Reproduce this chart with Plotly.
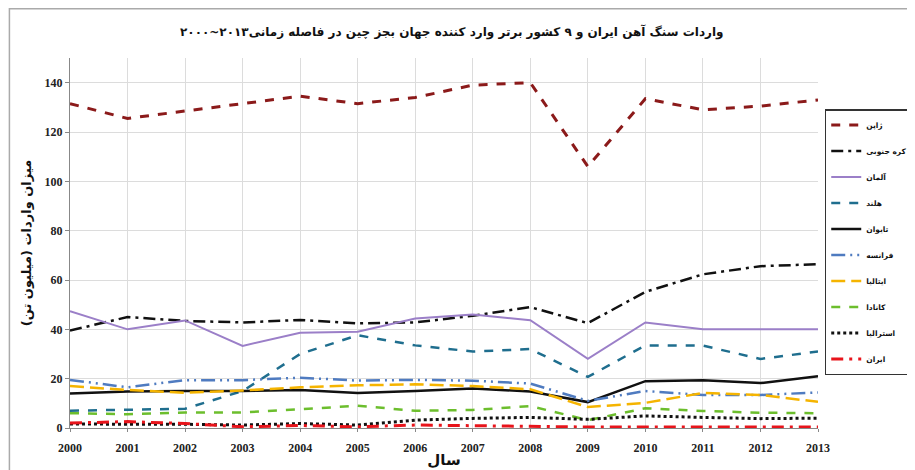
import plotly.graph_objects as go

years = list(range(2000, 2014))

japan = [131.5, 125.5, 128.5, 131.5, 134.5, 131.5, 134, 139, 140, 106, 133.5, 129, 130.5, 133]
korea = [39.5, 45, 43.4, 42.8, 43.8, 42.4, 42.8, 45.5, 49, 42.5, 55.2, 62.3, 65.6, 66.4]
germany = [47.4, 40, 43.6, 33.3, 38.6, 39, 44.4, 46, 43.7, 28, 42.8, 40, 40, 40]
netherlands = [7, 7.5, 7.8, 15, 30, 37.6, 33.5, 31, 32, 20.7, 33.5, 33.4, 28, 31]
taiwan = [14, 14.8, 15, 15, 15.4, 14.2, 15, 16, 14.8, 10.5, 19, 19.4, 18.2, 21]
france = [19.5, 16.5, 19.4, 19.4, 20.4, 19.2, 19.5, 19.2, 18, 11, 15, 13.4, 13.4, 14.4]
italy = [17, 15.4, 14.3, 15.2, 16.5, 17.3, 17.7, 17, 15.7, 8.5, 10.2, 14.2, 13.4, 10.6]
canada = [6, 5.6, 6.3, 6.3, 7.6, 9, 7, 7.3, 8.9, 3.2, 8, 6.9, 6.2, 6]
australia = [1.6, 1.7, 1.5, 1.2, 1.8, 1.2, 3.2, 3.9, 4.3, 3.5, 4.9, 4.3, 3.8, 4]
iran = [2, 2.6, 1.8, 0.5, 1.0, 0.5, 1.2, 0.9, 0.8, 0.4, 0.4, 0.4, 0.7, 0.4]

names = ["ژاپن", "کره جنوبی", "آلمان", "هلند", "تایوان", "فرانسه", "ایتالیا", "کانادا", "استرالیا", "ایران"]
series = [japan, korea, germany, netherlands, taiwan, france, italy, canada, australia, iran]
styles = [
    ("#8b1a1a", "dash", 3),
    ("#111111", "12px,5px,3px,5px", 2.5),
    ("#9b7fc8", "solid", 2),
    ("#1f6e8e", "dash", 2.5),
    ("#111111", "solid", 2.5),
    ("#4f7bc0", "14px,5px,2px,5px,2px,5px", 2.5),
    ("#f5b400", "14px,6px", 2.5),
    ("#6cbe2d", "dash", 2.5),
    ("#111111", "dot", 3),
    ("#e8141b", "12px,6px,3px,6px", 3),
]

fig = go.Figure()
for i, (name, vals, (color, dash, width)) in enumerate(zip(names, series, styles)):
    fig.add_scatter(x=years, y=vals, name=name, mode="lines", legendgroup=str(i),
                    line=dict(color=color, dash=dash, width=width))

# page body adds an 8px offset, margins are set so the plot area lands where the reference has it
fig.update_layout(
    width=915, height=470,
    paper_bgcolor="white", plot_bgcolor="white",
    margin=dict(l=62, r=105, t=50, b=50, autoexpand=False),
    title=dict(text="واردات سنگ آهن ایران و ۹ کشور برتر وارد کننده جهان بجز چین در فاصله زمانی۲۰۱۳~۲۰۰۰",
               x=0.485, xanchor="center", y=0.95, yanchor="middle",
               font=dict(family="DejaVu Sans", size=12, color="#111", weight="bold")),
    legend=dict(x=1.009, y=0.862, xanchor="left", yanchor="top", tracegroupgap=7,
                bordercolor="#333", borderwidth=1.5, bgcolor="white",
                font=dict(family="DejaVu Sans", size=7.5, color="#111", weight="bold")),
    showlegend=True,
)
fig.update_xaxes(range=[2000, 2013], tickmode="array", tickvals=years, ticktext=[str(y) for y in years],
                 automargin=False, ticklabelstandoff=6,
                 showgrid=True, gridcolor="#dcdcdc", showline=True, linecolor="#888", zeroline=False,
                 ticks="outside", ticklen=3, tickcolor="#888",
                 tickfont=dict(family="Liberation Serif", size=12, color="#222", weight="bold"),
                 title=dict(text="سال", standoff=0,
                            font=dict(family="DejaVu Sans", size=15, color="#111", weight="bold")))
fig.update_yaxes(range=[0, 150], tickmode="array", tickvals=[0, 20, 40, 60, 80, 100, 120, 140],
                 automargin=False,
                 showgrid=True, gridcolor="#dcdcdc", showline=True, linecolor="#888", zeroline=False,
                 ticks="outside", ticklen=4, tickcolor="#888",
                 tickfont=dict(family="Liberation Serif", size=12, color="#222", weight="bold"),
                 title=dict(text="میزان واردات (میلیون تن)", standoff=10,
                            font=dict(family="DejaVu Sans", size=13, color="#111", weight="bold")))
fig.add_shape(type="rect", xref="paper", yref="paper", x0=-0.081, x1=1.2, y0=-0.3, y1=1.133,
              line=dict(color="#aaaaaa", width=1.5))
fig.write_html("out.html")
